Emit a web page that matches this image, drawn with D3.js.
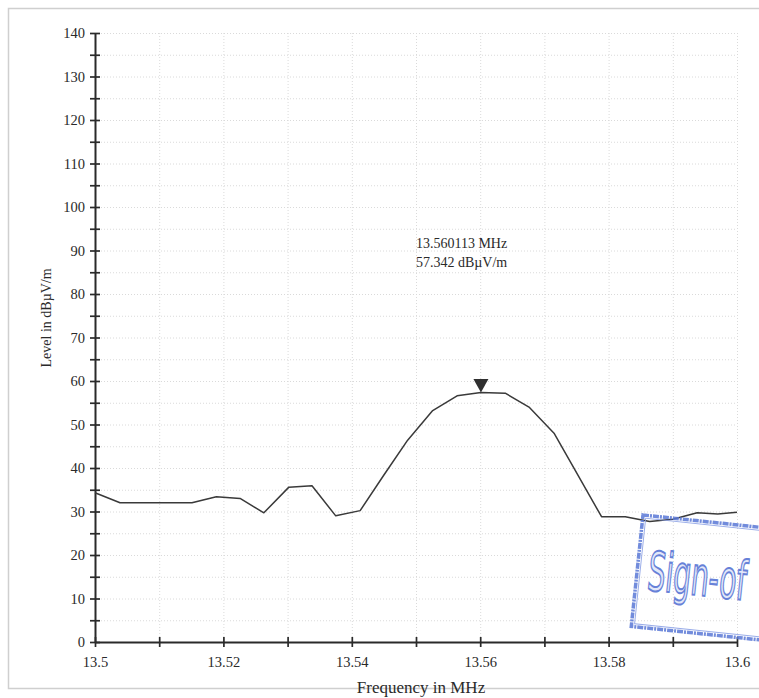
<!DOCTYPE html>
<html>
<head>
<meta charset="utf-8">
<script src="https://cdn.jsdelivr.net/npm/d3@7"></script>
<style>
    body { margin: 0; background: #fff; }
    svg { display: block; }
    text { font-family: "Liberation Serif", "Times New Roman", serif; fill: #2a2a2a; }
</style>
</head>
<body>
<div id="root"></div>
<script>
const WIDTH = 759;
const HEIGHT = 698;

// frequency in MHz, level in dBµV/m
const freqs = [13.5, 13.5039, 13.5076, 13.5114, 13.5151, 13.5189, 13.5226, 13.5263, 13.5302,
    13.5338, 13.5375, 13.5413, 13.545, 13.5487, 13.5526, 13.5564, 13.560113, 13.5639, 13.5676,
    13.5715, 13.5752, 13.5789, 13.5826, 13.5864, 13.59, 13.5938, 13.597, 13.6];
const levels = [34.3, 32.0, 32.0, 32.0, 32.0, 33.4, 33.0, 29.7, 35.6,
    35.9, 29.0, 30.2, 38.4, 46.4, 53.2, 56.6, 57.342, 57.2, 54.0,
    48.0, 38.4, 28.8, 28.8, 27.7, 28.2, 29.7, 29.4, 29.8];

const peakFreq = 13.560113;
const peakLevel = 57.342;

const yTicks = d3.range(0, 141, 5);
const xTicks = d3.range(0, 11).map(i => +(13.5 + i / 100).toFixed(2));

const x = d3.scaleLinear().domain([13.5, 13.6]).range([95, 737]);
const y = d3.scaleLinear().domain([0, 140]).range([642, 33]);

const svg = d3.select('#root').append('svg')
    .attr('width', WIDTH)
    .attr('height', HEIGHT);

// page frame
svg.append('path')
    .attr('d', `M${WIDTH + 5},8.5H8.5V688.5H${WIDTH + 5}`)
    .attr('fill', 'none')
    .attr('stroke', '#cfcfcf')
    .attr('stroke-width', 1.5);

// grid
const grid = svg.append('g')
    .attr('stroke', '#dadada')
    .attr('stroke-dasharray', '1,2')
    .attr('stroke-width', 1);

grid.selectAll('.h')
    .data(yTicks.filter(d => d > 0))
    .enter().append('line')
        .attr('x1', x(13.5)).attr('x2', x(13.6))
        .attr('y1', d => y(d) + 0.5).attr('y2', d => y(d) + 0.5);

grid.selectAll('.v')
    .data(xTicks.filter(d => d > 13.5))
    .enter().append('line')
        .attr('x1', d => x(d) + 0.5).attr('x2', d => x(d) + 0.5)
        .attr('y1', y(140)).attr('y2', y(0));

// axes
const yAxis = d3.axisLeft(y)
    .tickValues(yTicks)
    .tickFormat(d => d % 10 === 0 ? d : '')
    .tickSizeInner(5)
    .tickSizeOuter(0)
    .tickPadding(5);

const xAxis = d3.axisBottom(x)
    .tickValues(xTicks)
    .tickFormat(d => Math.round(d * 100) % 2 === 0 ? String(d) : '')
    .tickSizeInner(5)
    .tickSizeOuter(0)
    .tickPadding(10);

const gy = svg.append('g')
    .attr('transform', `translate(${x(13.5)},0)`)
    .call(yAxis);

const gx = svg.append('g')
    .attr('transform', `translate(0,${y(0)})`)
    .call(xAxis);

[gx, gy].forEach(g => {
    g.select('.domain').attr('stroke', '#2a2a2a').attr('stroke-width', 2);
    g.selectAll('.tick text')
        .style('font-family', '"Liberation Serif", "Times New Roman", serif')
        .style('font-size', '14.5px')
        .attr('fill', '#2a2a2a');
});
gy.selectAll('.tick line').attr('x1', 5).attr('x2', -5).attr('stroke', '#2a2a2a').attr('stroke-width', 1.7);
gx.selectAll('.tick line').attr('y1', -5).attr('y2', 5).attr('stroke', '#2a2a2a').attr('stroke-width', 1.7);

// axis titles
svg.append('text')
    .attr('x', 421)
    .attr('y', 693)
    .attr('text-anchor', 'middle')
    .style('font-size', '17px')
    .text('Frequency in MHz');

svg.append('text')
    .attr('transform', `translate(51,${y(74.5)}) rotate(-90)`)
    .attr('text-anchor', 'middle')
    .style('font-size', '14px')
    .text('Level in dBµV/m');

// trace
const line = d3.line()
    .x((d, i) => x(freqs[i]))
    .y(d => y(d));

svg.append('path')
    .datum(levels)
    .attr('d', line)
    .attr('fill', 'none')
    .attr('stroke', '#3a3a3a')
    .attr('stroke-width', 1.5)
    .attr('stroke-linejoin', 'round');

// peak marker
const px = x(peakFreq);
const py = y(peakLevel);
svg.append('path')
    .attr('d', `M${px - 7.5},${py - 13.5}L${px + 7.5},${py - 13.5}L${px},${py}Z`)
    .attr('fill', '#2f2f2f');

const label = svg.append('text')
    .attr('x', px - 65)
    .attr('y', y(90.5))
    .style('font-size', '14px');
label.append('tspan').text(`${peakFreq} MHz`);
label.append('tspan')
    .attr('x', px - 65)
    .attr('dy', 18.4)
    .text(`${peakLevel} dBµV/m`);

// sign-off stamp (its frame runs off the right edge of the page)
const stamp = svg.append('g')
    .attr('transform', 'translate(643,515) rotate(6)')
    .attr('opacity', 0.85);

stamp.append('rect')
    .attr('width', 170)
    .attr('height', 112)
    .attr('fill', 'none')
    .attr('stroke', '#5a78d6')
    .attr('stroke-width', 3.5)
    .attr('stroke-dasharray', '6,1,2,1');

stamp.append('rect')
    .attr('x', 3).attr('y', 3)
    .attr('width', 170)
    .attr('height', 106)
    .attr('fill', 'none')
    .attr('stroke', '#8aa0e6')
    .attr('stroke-width', 1);

stamp.append('text')
    .attr('transform', 'translate(11,74) scale(0.52,1)')
    .style('font-family', '"DejaVu Sans", sans-serif')
    .style('font-size', '54px')
    .style('fill', '#dfe5f8')
    .attr('stroke', '#4d6cd2')
    .attr('stroke-width', 2)
    .text('Sign-of');
</script>
</body>
</html>
